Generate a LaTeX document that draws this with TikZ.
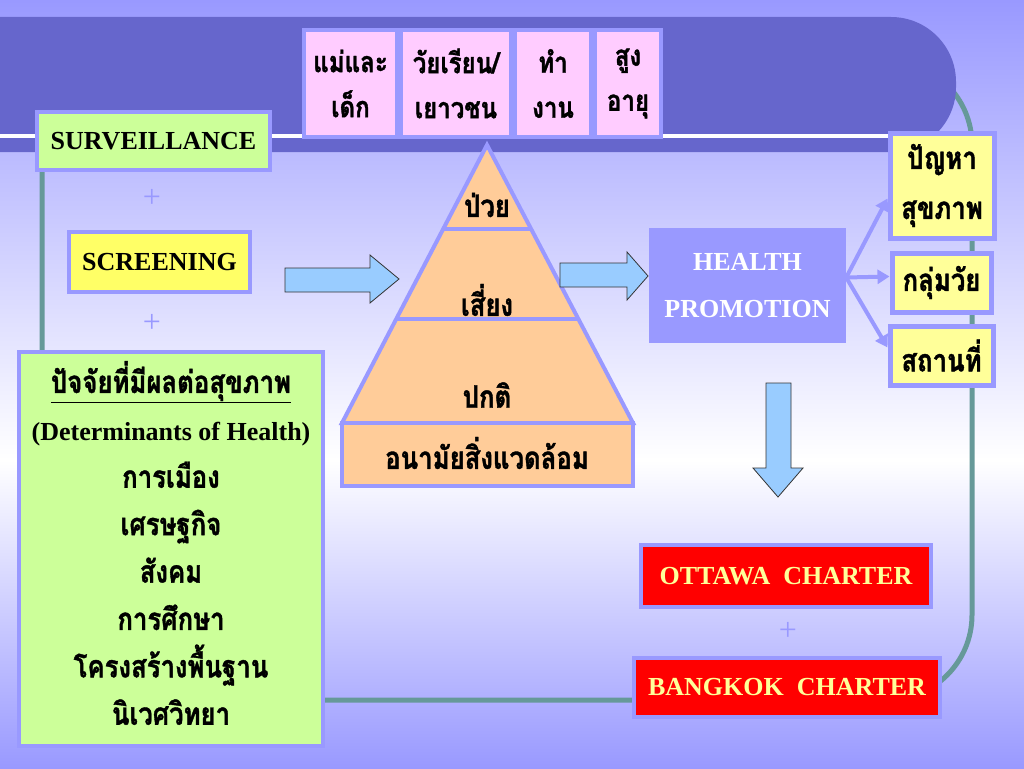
\documentclass[tikz,border=0pt]{standalone}
\usepackage{fontspec}
\setmainfont{Liberation Serif}
\newfontfamily\thai[Script=Thai, FakeStretch=0.83, FakeBold=1.2]{Loma}
\usetikzlibrary{arrows.meta}
\tikzset{>={Triangle[width=14pt,length=12pt]}}
\definecolor{lilac}{HTML}{9999FF}
\definecolor{band}{HTML}{6666CC}
\definecolor{frame}{HTML}{669999}
\definecolor{pinkbg}{HTML}{FFCCFF}
\definecolor{lime}{HTML}{CCFF99}
\definecolor{lemon}{HTML}{FFFF66}
\definecolor{cream}{HTML}{FFFF99}
\definecolor{peach}{HTML}{FFCC99}
\definecolor{sky}{HTML}{99CCFF}
\newcommand{\thaitxt}[1]{{\thai\fontsize{31}{47.4}\selectfont #1}}
\tikzset{
  box/.style={draw=lilac, line width=4pt, inner sep=0pt, align=center,
    font=\fontsize{26}{30}\selectfont\bfseries},
  agebox/.style={box, fill=pinkbg, minimum height=107pt,
    font=\thai\bfseries\fontsize{29}{45}\selectfont},
  sidebox/.style={box, fill=cream, line width=5pt,
    font=\thai\bfseries\fontsize{31}{50}\selectfont},
  charter/.style={box, fill=red, text=cream},
  tier/.style={fill=peach, draw=lilac, line width=4pt},
  tiertext/.style={font=\thai\bfseries\fontsize{31}{34}\selectfont},
  blockarrow/.style={fill=sky, draw=black!80, line width=0.8pt},
  branch/.style={draw=lilac, line width=4pt, ->},
  plus/.style={text=lilac, font=\fontsize{32}{32}\selectfont}
}

\begin{document}
\begin{tikzpicture}[x=1pt,y=-1pt]
\useasboundingbox (0,0) rectangle (1024,768);
\shade[top color=lilac, bottom color=white] (0,0) rectangle (1024,460);
\shade[top color=white, bottom color=lilac] (0,460) rectangle (1024,768);

\draw[frame, line width=5pt, rounded corners=85pt] (42,60) rectangle (972,700);
\fill[band, rounded corners=65pt] (-100,17) rectangle (956,152);
\draw[white, line width=4pt] (0,136) -- (900,136);

% target groups
\node[agebox, minimum width=93pt] (kid) at (350.5,83.5) {แม่และ\\เด็ก};
\node[agebox, minimum width=110pt] (teen) at (456,83.5) {วัยเรียน/\\เยาวชน};
\node[agebox, minimum width=76pt] (work) at (553,83.5) {ทำ\\งาน};
\node[agebox, minimum width=66pt] (old) at (628,83.5) {สูง\\อายุ};

\node[box, fill=lime, minimum width=233pt, minimum height=58pt] (surv) at (153.5,141) {SURVEILLANCE};
\node[plus] (plus1) at (152,198) {+};
\node[box, fill=lemon, minimum width=181pt, minimum height=60pt] (screen) at (159.5,262) {SCREENING};
\node[plus] (plus2) at (152,323) {+};
\node[box, fill=lime, minimum width=304pt, minimum height=394pt] (determ) at (171,549) {};
\node[align=center, font=\fontsize{26}{47.4}\selectfont\bfseries] (determlist) at (171,543)
  {\thaitxt{\underline{ปัจจัยที่มีผลต่อสุขภาพ}}\\(Determinants of Health)\\
   \thaitxt{การเมือง}\\\thaitxt{เศรษฐกิจ}\\\thaitxt{สังคม}\\
   \thaitxt{การศึกษา}\\\thaitxt{โครงสร้างพื้นฐาน}\\\thaitxt{นิเวศวิทยา}};

\draw[blockarrow] (285,268) -- (370,268) -- (370,255) -- (399,279)
  -- (370,303) -- (370,292) -- (285,292) -- cycle;

% pyramid
\draw[tier] (487,145) -- (633,423) -- (342,423) -- cycle;
\draw[lilac, line width=4pt] (443,229) -- (531,229);
\draw[lilac, line width=4pt] (396,319) -- (578,319);
\draw[tier] (342,423) rectangle (633,486);
\node[tiertext] (sick) at (487,205) {ป่วย};
\node[tiertext] (risk) at (487,300) {เสี่ยง};
\node[tiertext] (normal) at (487,395) {ปกติ};
\node[tiertext] (env) at (487,453) {อนามัยสิ่งแวดล้อม};

\draw[blockarrow] (560,263) -- (627,263) -- (627,252) -- (648,276)
  -- (627,300) -- (627,287) -- (560,287) -- cycle;

\node[fill=lilac, minimum width=197pt, minimum height=115pt, inner sep=0pt,
  text=white, align=center, font=\fontsize{26}{47}\selectfont\bfseries]
  (hp) at (747.5,285.5) {HEALTH\\PROMOTION};

\node[sidebox, minimum width=104pt, minimum height=105pt] (prob) at (942,185.5) {ปัญหา\\สุขภาพ};
\node[sidebox, minimum width=99pt, minimum height=59pt] (age) at (941.5,282.5) {กลุ่มวัย};
\node[sidebox, minimum width=103pt, minimum height=59pt] (place) at (941.5,355.5) {สถานที่};

\coordinate (fork) at ([yshift=8pt]hp.east);
\draw[branch] (fork) -- ([yshift=-13pt]prob.west);
\draw[branch] (fork) -- ([yshift=6pt]age.west);
\draw[branch] (fork) -- ([yshift=8pt]place.west);

\draw[blockarrow] (766,383) -- (791,383) -- (791,468) -- (803,468)
  -- (778,497) -- (753,468) -- (766,468) -- cycle;

\node[charter, minimum width=290pt, minimum height=62pt] (ottawa) at (786,576) {OTTAWA\ \ CHARTER};
\node[plus] (plus3) at (788,631) {+};
\node[charter, minimum width=306pt, minimum height=59pt] (bangkok) at (787,687.5) {BANGKOK\ \ CHARTER};
\end{tikzpicture}
\end{document}
